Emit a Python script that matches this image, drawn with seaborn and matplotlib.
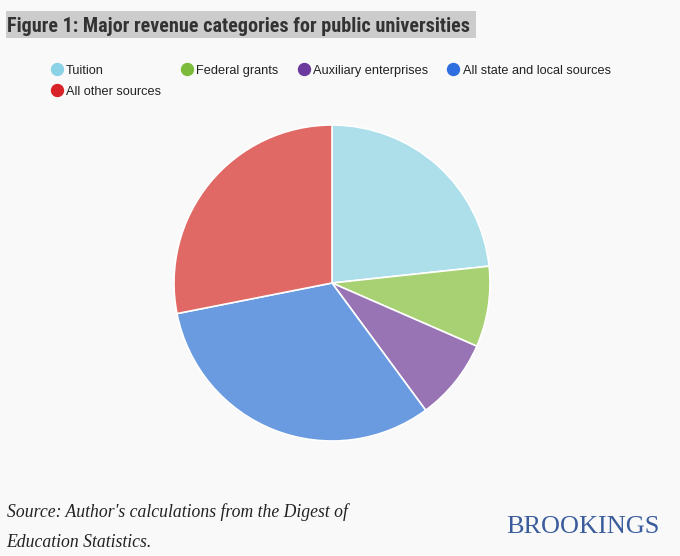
import matplotlib
matplotlib.use("Agg")
import matplotlib.pyplot as plt
import seaborn as sns
from matplotlib.lines import Line2D
from matplotlib.patches import Rectangle
from matplotlib import font_manager

# ---- data ----
categories = ["Tuition", "Federal grants", "Auxiliary enterprises",
              "All state and local sources", "All other sources"]
shares = [23.3, 8.25, 8.35, 32.0, 28.1]
slice_colors = ["#ADDFEA", "#A8D173", "#9874B4", "#6A9BE0", "#E06865"]
legend_colors = ["#8CD2E6", "#7CBB3B", "#6B3A9C", "#2E6EDF", "#D72228"]
title = "Figure 1: Major revenue categories for public universities"
source_lines = ["Source: Author's calculations from the Digest of",
                "Education Statistics."]
brand = "BROOKINGS"

BG = "#F9F9F9"
sns.set_theme(style="white")
plt.rcParams['font.family'] = ['Liberation Sans', 'DejaVu Sans']

W, H = 680, 556
fig = plt.figure(figsize=(W / 100, H / 100), dpi=100, facecolor=BG)


def fx(px):
    return px / W


def fy(py):
    return 1 - py / H


# ---- pie ----
cx, cy, r = 332, 283, 158
ax = fig.add_axes([fx(cx - r), fy(cy + r), 2 * r / W, 2 * r / H])
ax.pie(shares, colors=slice_colors, startangle=90, counterclock=False,
       radius=1, wedgeprops=dict(edgecolor="white", linewidth=1.2))
ax.set_xlim(-1, 1)
ax.set_ylim(-1, 1)
ax.set_aspect("equal")
ax.axis("off")

renderer = fig.canvas.get_renderer()


def fit(txt, width_px):
    bb = txt.get_window_extent(renderer)
    txt.set_fontsize(txt.get_fontsize() * width_px / bb.width)


# pick a condensed bold face for the title if one is installed
def find_title_font():
    prefs = ["liberationsansnarrow-bold", "robotocondensed-bold",
             "dejavusanscondensed-bold", "notosans-condensedbold",
             "opensans-condensedbold"]
    files = [f.fname for f in font_manager.fontManager.ttflist]
    for p in prefs:
        for fn in files:
            base = fn.replace("\\", "/").split("/")[-1].lower().replace(" ", "")
            if base.startswith(p):
                return font_manager.FontProperties(fname=fn)
    for f in font_manager.fontManager.ttflist:
        nm = f.name.lower()
        if ("condensed" in nm or "narrow" in nm or f.stretch in
                ("condensed", "semi-condensed", "extra-condensed")) \
                and f.weight in (600, 700, 800, "bold"):
            return font_manager.FontProperties(fname=f.fname)
    return font_manager.FontProperties(family=["Roboto", "DejaVu Sans"],
                                       weight="bold")


# ---- title ----
fig.add_artist(Rectangle((fx(6), fy(38.3)), (476 - 6) / W, (38.3 - 11) / H,
                         transform=fig.transFigure, facecolor="#CCCCCC",
                         edgecolor="none", zorder=0))
tp = find_title_font()
tp.set_size(15)
t = fig.text(fx(7), fy(32.3), title, va="baseline", ha="left",
             fontproperties=tp, color="#333333", zorder=2)
fit(t, 464)

# ---- legend ----
order = [0, 4, 1, 2, 3]
handles = [Line2D([], [], marker="o", linestyle="none", markersize=8.6,
                  markerfacecolor=legend_colors[i], markeredgecolor=legend_colors[i])
           for i in order]
labels = [categories[i] for i in order]
leg = fig.legend(handles, labels, loc="upper left",
                 bbox_to_anchor=(fx(51), fy(64.5)), ncol=4, frameon=False,
                 fontsize=9.2, handlelength=0.9, handletextpad=0.27,
                 columnspacing=1.55, labelspacing=0.73, borderpad=0,
                 borderaxespad=0)
for txt in leg.get_texts():
    txt.set_color("#222222")

# ---- source ----
s1 = fig.text(fx(6.7), fy(516.7), source_lines[0], va="baseline", ha="left",
              family=["Liberation Serif", "DejaVu Serif"], style="italic",
              color="#222222", fontsize=12)
fit(s1, 340)
fig.text(fx(6.7), fy(547.3), source_lines[1], va="baseline", ha="left",
         family=["Liberation Serif", "DejaVu Serif"], style="italic",
         color="#222222", fontsize=s1.get_fontsize())

# ---- brand ----
b = fig.text(fx(506), fy(533.3), brand, va="baseline", ha="left",
             family=["Liberation Serif", "DejaVu Serif"], color="#3A5C9C",
             fontsize=19)
fit(b, 153)

fig.savefig("out.png", dpi=100, facecolor=BG)
